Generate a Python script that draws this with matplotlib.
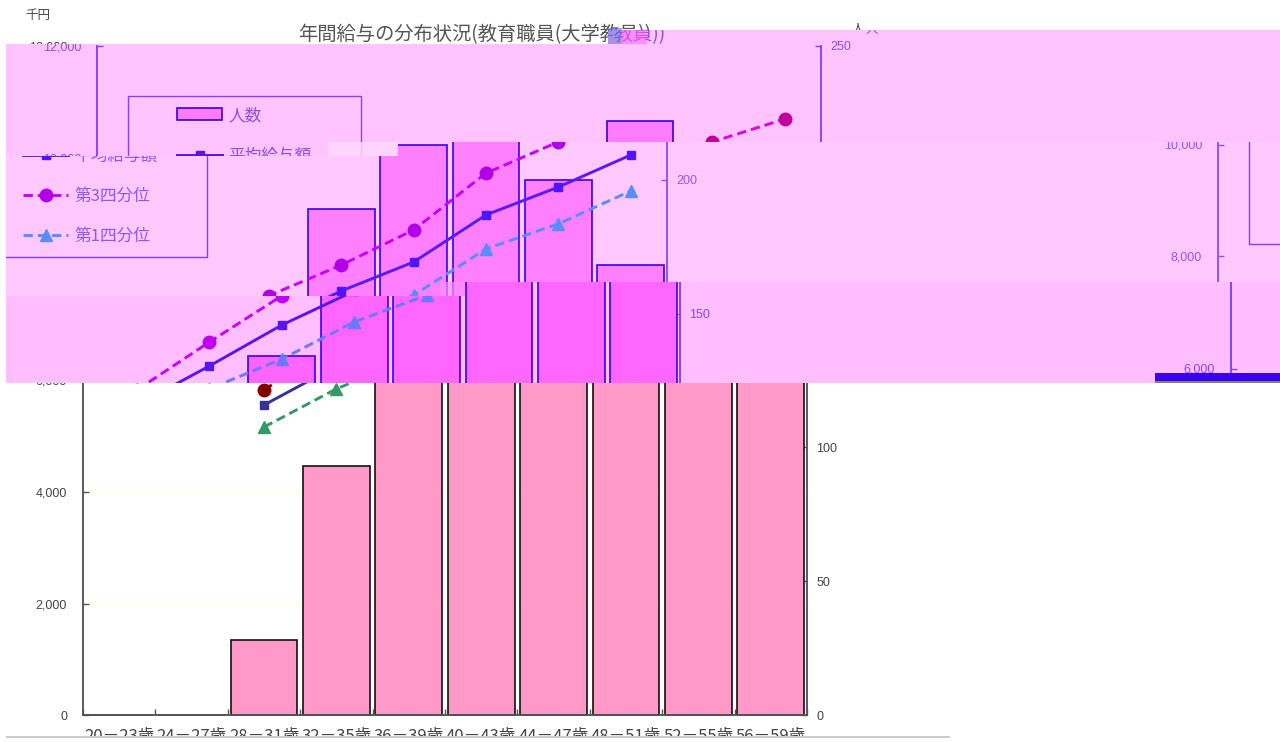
import numpy as np
import matplotlib
matplotlib.use("Agg")
import matplotlib.pyplot as plt
from matplotlib.patches import Rectangle
from matplotlib.transforms import Bbox

CJK = ['Noto Sans CJK JP', 'DejaVu Sans']
plt.rcParams['font.family'] = ['Liberation Sans', 'Noto Sans CJK JP', 'DejaVu Sans']

title = '年間給与の分布状況(教育職員(大学教員))'
categories = ['20－23歳', '24－27歳', '28－31歳', '32－35歳', '36－39歳',
              '40－43歳', '44－47歳', '48－51歳', '52－55歳', '56－59歳']
staff = [0, 0, 28, 93, 134, 189, 213, 222, 200, 168]
avg_pay = [np.nan, np.nan, 5560, 6260, 6995, 7605, 8125, 8970, 9470, 10045]
q3_pay = [np.nan, np.nan, 5830, 6690, 7520, 8070, 8700, 9720, 10280, 10690]
q1_pay = [np.nan, np.nan, 5165, 5850, 6385, 7050, 7530, 8360, 8810, 9400]
left_ticks = [0, 2000, 4000, 6000, 8000, 10000, 12000]
right_ticks = [0, 50, 100, 150, 200, 250]
legend_names = ['人数', '平均給与額', '第3四分位', '第1四分位']

W, H = 1280, 742
AX_L, AX_R, AX_T, AX_B = 83, 807, 46, 715

BASE = dict(face='#ff99c8', edge='#111111', spine='#555555', text='#444444', title='#555555',
            q3='#800000', q3m='#800000', avg='#333399', avgm='#333399', q1='#339966', q1m='#339966',
            grid='#ffffdd', frame='#555555', lw=1.2)
PA = dict(face='#ff7cff', edge='#3800d8', spine='#8a40f8', text='#8a50e8', title='#8a50e0',
          q3='#e000e6', q3m='#c0009c', avg='#5a14e0', avgm='#5a14e0', q1='#5a8cff', q1m='#5a8cff',
          grid='#ffc8ff', frame='#8a40f8', lw=1.2)
PB = dict(face='#ff80ff', edge='#3a00f0', spine='#8a50ff', text='#8a58ff', title='#8a58ff',
          q3='#c800ff', q3m='#b000e8', avg='#5a1af0', avgm='#5014ff', q1='#5a8cff', q1m='#5a8cff',
          grid='#ffccff', frame='#7a40ff', lw=1.2)
PC = dict(face='#ff66ff', edge='#3a00f0', spine='#8040ff', text='#8048f8', title='#8048f8',
          q3='#c800ff', q3m='#c000f0', avg='#5a14f0', avgm='#5a14f0', q1='#6a78ff', q1m='#6a78ff',
          grid='#ffc4ff', frame='#7a40ff', lw=1.2)

fig = plt.figure(figsize=(W / 100, H / 100), dpi=100, facecolor='white')


def axpos(x, y):
    return (x - AX_L) / (AX_R - AX_L), (AX_B - y) / (AX_B - AX_T)


def block(x0, y0, x1, y1, color, z, alpha=1.0):
    fig.add_artist(Rectangle((x0 / W, 1 - y1 / H), (x1 - x0) / W, (y1 - y0) / H,
                             transform=fig.transFigure, facecolor=color, edgecolor='none',
                             zorder=z, alpha=alpha))


def draw_chart(dx, dy, p, z):
    rect = [(AX_L + dx) / W, 1 - (AX_B + dy) / H, (AX_R - AX_L) / W, (AX_B - AX_T) / H]
    ax = fig.add_axes(rect)
    ax.patch.set_visible(False)
    ax2 = ax.twinx()
    ax2.set_zorder(z)
    ax.set_zorder(z + 0.01)
    pos = np.arange(len(categories))

    ax2.hlines(np.array(left_ticks[1:-1]) * 250 / 12000, -0.5, 9.5, color=p['grid'], lw=0.8, zorder=1)
    bars = ax2.bar(pos, staff, width=0.92, facecolor=p['face'], edgecolor=p['edge'], linewidth=p['lw'],
                   zorder=2, label=legend_names[0])
    l1, = ax.plot(pos, avg_pay, '-', color=p['avg'], lw=2.1, marker='s', ms=5.6,
                  mfc=p['avgm'], mec=p['avgm'], label=legend_names[1])
    l2, = ax.plot(pos, q3_pay, color=p['q3'], lw=2.1, ls=(0, (3.2, 1.7)), marker='o', ms=9,
                  mfc=p['q3m'], mec=p['q3m'], label=legend_names[2])
    l3, = ax.plot(pos, q1_pay, color=p['q1'], lw=2.1, ls=(0, (3.2, 1.7)), marker='^', ms=8,
                  mfc=p['q1m'], mec=p['q1m'], label=legend_names[3])

    ax.set_xlim(-0.5, 9.5)
    ax.set_ylim(0, 12000)
    ax2.set_ylim(0, 250)
    ax.set_yticks(left_ticks, [f'{v:,}' for v in left_ticks])
    ax2.set_yticks(right_ticks, [str(v) for v in right_ticks])
    ax.set_xticks(np.arange(-0.5, 10, 1))
    ax.set_xticklabels([])
    ax.set_xticks(pos, categories, minor=True, family=CJK, fontsize=12, color=p['text'])
    ax.tick_params(axis='x', which='minor', length=0, pad=9.5)
    ax.tick_params(axis='x', which='major', direction='in', length=4, color=p['spine'], width=1)
    ax.tick_params(axis='y', direction='in', length=4, pad=11.5, color=p['spine'], width=1,
                   labelsize=9, labelcolor=p['text'])
    ax2.tick_params(axis='y', direction='in', length=4, pad=6.5, color=p['spine'], width=1,
                    labelsize=9, labelcolor=p['text'])
    ax2.xaxis.set_visible(False)
    for a in (ax, ax2):
        a.spines['top'].set_visible(False)
        for s in ('left', 'right', 'bottom'):
            a.spines[s].set_color(p['spine'])
            a.spines[s].set_linewidth(1.1)

    tx, ty = axpos(475, 35)
    ax.text(tx, ty, title, transform=ax.transAxes, ha='center', va='center', fontsize=13.9,
            family=CJK, color=p['title'], clip_on=False)
    ax.text(*axpos(38, 15), '千円', transform=ax.transAxes, ha='center', va='center', fontsize=9,
            family=CJK, color=p['text'])
    ax.text(*axpos(858, 29), '人', transform=ax.transAxes, ha='center', va='center', fontsize=9,
            family=CJK, color=p['text'])

    fx0, fy0 = axpos(114, 257)
    fx1, fy1 = axpos(347, 96)
    ax.add_patch(Rectangle((fx0, fy0), fx1 - fx0, fy1 - fy0, transform=ax.transAxes, fill=False,
                           edgecolor=p['frame'], lw=1, zorder=5))
    leg = ax.legend(handles=[bars, l1, l2, l3], loc='upper left', bbox_to_anchor=axpos(163, 107),
                    bbox_transform=ax.transAxes, frameon=False, borderpad=0, borderaxespad=0,
                    handlelength=2.7, handletextpad=0.36, labelspacing=1.4,
                    prop=dict(family=CJK, size=12), labelcolor=p['text'])
    leg.set_zorder(6)
    return [ax, ax2]


def clip_all(axes_list, clip):
    x0, y0, x1, y1 = clip
    box = Bbox([[x0, H - y1], [x1, H - y0]])
    for a in axes_list:
        for art in a.findobj():
            art.set_clip_on(True)
            art.set_clip_path(None)
            art.set_clip_box(box)


WRAP = 1275
# clip rectangle, horizontal offset, wrapped-part vertical offset, palette, background
pieces = [
    ((608, 30, 1280, 44), 14, None, PA, '#ffc4ff'),
    ((6, 44, 1280, 156), 14, None, PA, '#ffc4ff'),
    ((398, 142, 1280, 156), -140, -13, PB, '#ffc8ff'),
    ((6, 156, 1280, 296), -140, -13, PB, '#ffc8ff'),
    ((465, 282, 1280, 296), -127, -12, PC, '#ffbeff'),
    ((6, 296, 1280, 383), -127, -12, PC, '#ffbeff'),
]

clips = []
clips.append((draw_chart(0, 0, BASE, 1), (0, 0, W, H)))
z = 2
for clip, dx, wdy, pal, bg in pieces:
    block(*clip, bg, z)
    clips.append((draw_chart(dx, 0, pal, z + 0.1), clip))
    if wdy is not None:
        clips.append((draw_chart(dx + WRAP, wdy, pal, z + 0.2), clip))
    z += 1

fig.canvas.draw()
for axes_list, clip in clips:
    clip_all(axes_list, clip)

# damaged blocks and streaks seen in the picture
block(608, 28, 622, 44, '#7070d8', 20, 0.6)
block(622, 30, 647, 44, '#ff60ff', 20, 0.55)
block(328, 142, 398, 156, '#ffd8ff', 20, 0.85)
block(440, 282, 465, 296, '#ff90ff', 20, 0.7)
block(1155, 373, 1280, 381, '#3a00f0', 20)
block(1155, 381, 1280, 383, '#808080', 20)
block(0, 735.5, W, H, 'white', 20)
block(6, 736, 950, 738, '#cccccc', 21)

fig.savefig('out.png', dpi=100)
